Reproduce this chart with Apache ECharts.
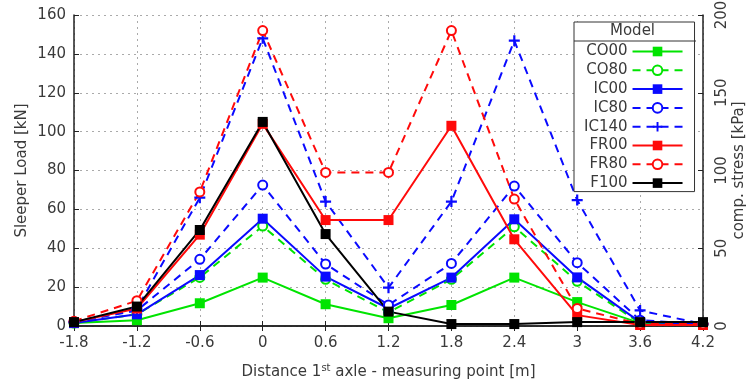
<!DOCTYPE html>
<html>
<head>
<meta charset="utf-8">
<script src="https://cdn.jsdelivr.net/npm/echarts@6/dist/echarts.min.js"></script>
<style>
  html, body { margin: 0; padding: 0; background: #fff; }
  #chart { width: 747px; height: 383px; }
</style>
</head>
<body>
<div id="chart"></div>
<script>
// distance from 1st axle to measuring point [m]
var distances = ['-1.8', '-1.2', '-0.6', '0', '0.6', '1.2', '1.8', '2.4', '3', '3.6', '4.2'];

// sleeper load [kN] per model
var co00  = [1.5, 3,  11.7, 24.9, 11.2, 4,    10.8, 24.9, 12.3, 1.5, 1];
var co80  = [1.5, 6,  25,   51.4, 24,   7,    24,   51,   23,   1.5, 1];
var ic00  = [1.5, 6,  26.2, 55.2, 25.4, 9,    24.9, 54.9, 25,   2,   1];
var ic80  = [2,   8,  34.3, 72.5, 31.9, 10.8, 32.2, 72,   32.6, 3,   1];
var ic140 = [2,   9,  66,   148,  64,   19.7, 64,   146.8, 64.8, 8,  1];
var fr00  = [2,   9,  47,   104,  54.5, 54.5, 103,  44.6, 5.6,  0.5, 0.5];
var fr80  = [2.5, 13, 69,   152,  79,   79,   152,  65.3, 9,    1,   1];
var f100  = [2,   10, 49.4, 105,  47.3, 7.4,  1,    1,    2,    2,   2];

var leftTicks = [0, 160, 20];    // min, max, interval
var rightTicks = [0, 200, 50];

var GREEN = '#00e400', BLUE = '#0a0aff', RED = '#ff0a0a', BLACK = '#000000';
var PLUS = 'path://M4,0h2v10h-2z M0,4h10v2h-10z';
var DASH = [8, 6];
var FONT = 'DejaVu Sans';
var TXT = '#3a3a3a';

function mkSeries(name, data, color, symbol, dashed, filled, size) {
  return {
    name: name,
    type: 'line',
    data: data,
    symbol: symbol,
    symbolSize: size,
    showAllSymbol: true,
    lineStyle: { color: color, width: 2, type: dashed ? DASH : 'solid' },
    itemStyle: { color: filled ? color : '#fff', borderColor: color, borderWidth: filled ? 0 : 2 },
    emphasis: { disabled: true },
    animation: false
  };
}

var myChart = echarts.init(document.getElementById('chart'));
myChart.setOption({
  animation: false,
  textStyle: { fontFamily: FONT },
  grid: { left: 74, right: 44, top: 15, bottom: 57, outerBoundsMode: 'none' },
  xAxis: [{
    type: 'category',
    data: distances,
    boundaryGap: false,
    name: 'Distance 1{sup|st} axle - measuring point [m]',
    nameLocation: 'middle',
    nameGap: 37,
    nameTextStyle: {
      color: TXT, fontSize: 15, fontFamily: FONT,
      rich: { sup: { fontSize: 10, color: TXT, fontFamily: FONT, padding: [0, 0, 9, 0] } }
    },
    axisLine: { lineStyle: { color: '#222', width: 1.5 } },
    axisTick: { inside: true, length: 5, alignWithLabel: true, lineStyle: { color: '#222' } },
    axisLabel: { color: TXT, fontSize: 15, margin: 10 },
    splitLine: { show: true, lineStyle: { color: '#aaa', type: [2, 4], width: 1 } }
  }, {
    type: 'category',
    data: distances,
    boundaryGap: false,
    position: 'top',
    axisLine: { lineStyle: { color: '#222', width: 1.5 } },
    axisTick: { inside: true, length: 5, lineStyle: { color: '#222' } },
    axisLabel: { show: false },
    splitLine: { show: false }
  }],
  yAxis: [{
    type: 'value',
    min: leftTicks[0], max: leftTicks[1], interval: leftTicks[2],
    name: 'Sleeper Load [kN]',
    nameLocation: 'middle',
    nameGap: 44,
    nameMoveOverlap: false,
    nameTextStyle: { color: TXT, fontSize: 15 },
    axisLine: { show: true, lineStyle: { color: '#222', width: 1.5 } },
    axisTick: { show: true, inside: true, length: 5, lineStyle: { color: '#222' } },
    axisLabel: { color: TXT, fontSize: 15, margin: 8 },
    splitLine: { show: true, lineStyle: { color: '#aaa', type: [2, 4], width: 1 } }
  }, {
    type: 'value',
    position: 'right',
    min: rightTicks[0], max: rightTicks[1], interval: rightTicks[2],
    name: 'comp. stress [kPa]',
    nameLocation: 'middle',
    nameGap: 29,
    nameRotate: 90,
    nameMoveOverlap: false,
    nameTextStyle: { color: TXT, fontSize: 15 },
    axisLine: { show: true, lineStyle: { color: '#222', width: 1.5 } },
    axisTick: { show: true, inside: true, length: 5, lineStyle: { color: '#222' } },
    axisLabel: { color: TXT, fontSize: 15, rotate: 90, margin: 12 },
    splitLine: { show: false }
  }],
  legend: {
    orient: 'vertical',
    left: 574,
    top: 22,
    align: 'right',
    itemWidth: 50,
    itemHeight: 12,
    itemGap: 3.8,
    padding: [22, 11, 1, 10],
    backgroundColor: '#fff',
    borderColor: '#333',
    borderWidth: 1,
    textStyle: { color: TXT, fontSize: 15, fontFamily: FONT },
    selectedMode: false
  },
  graphic: [{
    type: 'text', left: 610, top: 24, z: 100,
    style: { text: 'Model', fill: TXT, font: '15px "DejaVu Sans"' }
  }, {
    type: 'line', z: 100,
    shape: { x1: 574, y1: 41, x2: 696, y2: 41 },
    style: { stroke: '#333', lineWidth: 1 }
  }],
  series: [
    mkSeries('CO00', co00, GREEN, 'rect', false, true, 10),
    mkSeries('CO80', co80, GREEN, 'circle', true, false, 9),
    mkSeries('IC00', ic00, BLUE, 'rect', false, true, 10),
    mkSeries('IC80', ic80, BLUE, 'circle', true, false, 9),
    mkSeries('IC140', ic140, BLUE, PLUS, true, true, 11),
    mkSeries('FR00', fr00, RED, 'rect', false, true, 10),
    mkSeries('FR80', fr80, RED, 'circle', true, false, 9),
    mkSeries('F100', f100, BLACK, 'rect', false, true, 10)
  ]
});
</script>
</body>
</html>
